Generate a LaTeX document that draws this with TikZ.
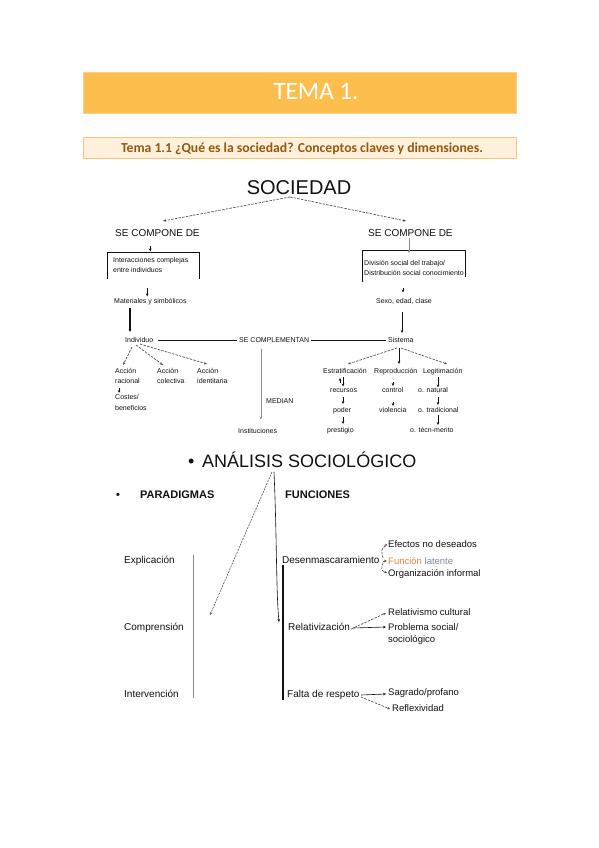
\documentclass[tikz,border=0pt]{standalone}
\usepackage{fontspec}
\setmainfont{Liberation Sans}
\newfontfamily\carlito{Carlito}
\usetikzlibrary{arrows.meta}
\definecolor{banner}{HTML}{FCBE4C}
\definecolor{bannerline}{HTML}{FCD08A}
\definecolor{subfill}{HTML}{FEF0DB}
\definecolor{subline}{HTML}{F7C27C}
\definecolor{subtext}{HTML}{94580F}
\definecolor{ink}{HTML}{111111}
\definecolor{lgray}{HTML}{8C8C8C}
\definecolor{dgray}{HTML}{555555}
\definecolor{fnorange}{HTML}{E08B3E}
\definecolor{latgray}{HTML}{7F8C9E}
\begin{document}
\begin{tikzpicture}[x=1pt,y=-1pt,
 tx/.style={inner sep=0pt,anchor=base west,text=ink,font=\fontsize{7}{8}\selectfont},
 tm/.style={inner sep=0pt,anchor=base west,text=ink,font=\fontsize{10}{12}\selectfont},
 ts/.style={inner sep=0pt,anchor=base west,text=ink,font=\fontsize{9.5}{11}\selectfont},
 tb/.style={inner sep=0pt,anchor=base west,text=ink,font=\bfseries\fontsize{11}{13}\selectfont},
 ar/.style={-{Stealth[length=3pt,width=2.6pt]},line width=0.6pt,draw=ink},
 dar/.style={ar,line width=0.7pt,draw=dgray,dash pattern=on 2.5pt off 1.2pt},
 boxside/.style={line width=0.7pt,draw=ink},
 ]
\useasboundingbox (0,0) rectangle (599,848);
\fill[white] (0,0) rectangle (599,848);

% header
\node[draw=bannerline,line width=0.8pt,fill=banner,inner sep=0pt,minimum width=433pt,minimum height=41pt,anchor=north west] (banner) at (83,72) {};
\node[inner sep=0pt,text=white,font=\carlito\fontsize{25}{30}\selectfont] (tema) at (316,92) {TEMA 1.};
\node[draw=subline,line width=0.8pt,fill=subfill,inner sep=0pt,minimum width=433pt,minimum height=21pt,anchor=north west] (subbox) at (83,137) {};
\node[inner sep=0pt,anchor=base,text=subtext,font=\carlito\bfseries\fontsize{13.7}{16}\selectfont] (subt) at (302,152) {Tema 1.1 ¿Qué es la sociedad? Conceptos claves y dimensiones.};

% upper diagram
\node[inner sep=0pt,anchor=base,text=ink,font=\fontsize{20}{24}\selectfont] (soc) at (299,194) {SOCIEDAD};
\node[tm] (scl) at (115,236) {SE COMPONE DE};
\node[tm] (scr) at (368,236) {SE COMPONE DE};
\draw[dar] ([shift={(-9,3)}]soc.base) -- ([shift={(48,-15)}]scl.base west);
\draw[dar] ([shift={(-9,3)}]soc.base) -- ([shift={(38,-15)}]scr.base west);

\node[inner sep=0pt,minimum width=92pt,minimum height=27pt,anchor=north west] (boxl) at (107,252) {};
\draw[boxside] (boxl.south west) -- (boxl.north west) -- (boxl.north east) -- (boxl.south east);
\draw[ar] ([shift={(-3,-6)}]boxl.north) -- ([shift={(-3,-0.5)}]boxl.north);
\node[tx] (inter) at (113,262.5) {Interacciones complejas};
\node[tx] (entre) at (113,272.5) {entre individuos};

\node[inner sep=0pt,minimum width=103pt,minimum height=32pt,anchor=north west] (boxr) at (362,250) {};
\draw[boxside] (boxr.south west) -- (boxr.north west) -- (boxr.north east) -- ([shift={(0,-5)}]boxr.south east);
\draw[ar,draw=lgray] ([shift={(41,2)}]scr.base west) -- ([shift={(41,17)}]scr.base west);
\node[tx] (div) at (364,265.5) {División social del trabajo/};
\node[tx] (dist) at (364,275) {Distribución social conocimiento};

\node[tx] (mat) at (114,303) {Materiales y simbólicos};
\draw[ar] ([shift={(-6,9)}]boxl.south) -- ([shift={(-6,17)}]boxl.south);
\node[tx,anchor=base] (sexo) at (404,303.5) {Sexo, edad, clase};
\draw[ar] ([shift={(-1,-16)}]sexo.base) -- ([shift={(-1,-11)}]sexo.base);

\node[tx] (ind) at (125,342.5) {Individuo};
\node[tx] (secomp) at (239,342.5) {SE COMPLEMENTAN};
\node[tx] (sis) at (388,342.5) {Sistema};
\draw[ar,line width=1.1pt] ([shift={(16,5)}]mat.base west) -- ([shift={(5,-10.5)}]ind.base west);
\draw[ar,line width=0.8pt] ([shift={(-2,8.5)}]sexo.base) -- ([shift={(14,-9.5)}]sis.base west);
\draw[line width=0.9pt,ink] ([shift={(33,-2.5)}]ind.base west) -- ([shift={(-2,-2.5)}]secomp.base west);
\draw[line width=0.9pt,ink] ([shift={(2,-2.5)}]secomp.base east) -- ([shift={(-2,-2.5)}]sis.base west);

\node[tx] (inst) at (238,433.5) {Instituciones};
\node[tx] (median) at (266,403.5) {MEDIAN};
\draw[ar,draw=lgray] ([shift={(22,6)}]secomp.base west) -- ([shift={(23,-14)}]inst.base west);

\node[tx] (ar1) at (115,373.5) {Acción};
\node[tx] (ar2) at (115,383) {racional};
\node[tx] (ac1) at (157,373.5) {Acción};
\node[tx] (ac2) at (157,383) {colectiva};
\node[tx] (ai1) at (197,373.5) {Acción};
\node[tx] (ai2) at (197,383) {identitaria};
\draw[dar] ([shift={(7,4.5)}]ind.base west) -- ([shift={(8,-8.5)}]ar1.base west);
\draw[dar] ([shift={(11,2.5)}]ind.base west) -- ([shift={(6,-8.5)}]ac1.base west);
\draw[dar] ([shift={(15,1.5)}]ind.base west) -- ([shift={(10,-9.5)}]ai1.base west);
\node[tx] (cos1) at (115,399.5) {Costes/};
\node[tx] (cos2) at (115,410.5) {beneficios};
\draw[ar] ([shift={(4,-11.5)}]cos1.base west) -- ([shift={(4,-6.5)}]cos1.base west);

\node[tx] (est) at (323,373.5) {Estratificación};
\node[tx] (rep) at (374,373.5) {Reproducción};
\node[tx] (leg) at (423,373.5) {Legitimación};
\draw[dar] ([shift={(9,5.5)}]sis.base west) -- ([shift={(25,-9.5)}]est.base west);
\draw[ar,line width=0.9pt] ([shift={(11,5.5)}]sis.base west) -- ([shift={(25,-9.5)}]rep.base west);
\draw[dar] ([shift={(13,5.5)}]sis.base west) -- ([shift={(24,-9.5)}]leg.base west);

\node[tx] (recur) at (330,392.5) {recursos};
\node[tx] (poder) at (333,412.5) {poder};
\node[tx] (prest) at (327,432.5) {prestigio};
\draw[ar] ([shift={(20,3.5)}]est.base west) -- ([shift={(20,13)}]est.base west);
\draw[ar] ([shift={(17,9.5)}]est.base west) -- ([shift={(17,4.5)}]est.base west);
\draw[ar] ([shift={(13,4.5)}]recur.base west) -- ([shift={(13,11.5)}]recur.base west);
\draw[ar] ([shift={(10,4.5)}]poder.base west) -- ([shift={(10,11.5)}]poder.base west);

\node[tx] (contr) at (382,392.5) {control};
\node[tx] (viol) at (379,412.5) {violencia};
\draw[ar] ([shift={(19,8.5)}]rep.base west) -- ([shift={(19,12.5)}]rep.base west);
\draw[ar] ([shift={(11,9.5)}]contr.base west) -- ([shift={(11,13.5)}]contr.base west);

\node[tx] (onat) at (418,392.5) {o. natural};
\node[tx] (otrad) at (418,412.5) {o. tradicional};
\node[tx] (otec) at (410,432.5) {o. técn-merito};
\draw[ar] ([shift={(15,3.5)}]leg.base west) -- ([shift={(15,14)}]leg.base west);
\draw[ar] ([shift={(20,4.5)}]onat.base west) -- ([shift={(20,12.5)}]onat.base west);
\draw[ar,line width=0.9pt] ([shift={(20,2.5)}]otrad.base west) -- ([shift={(20,12.5)}]otrad.base west);

% lower diagram
\node[inner sep=0pt,anchor=base west,text=ink,font=\fontsize{18}{22}\selectfont] (anal) at (188,467) {•\hspace{7.7pt}ANÁLISIS SOCIOLÓGICO};
\node[tb] (para) at (116,498) {•\hspace{20pt}PARADIGMAS};
\node[tb] (func) at (285,498) {FUNCIONES};
\node[tm] (expl) at (124,563) {Explicación};
\node[tm] (comp) at (124,630) {Comprensión};
\node[tm] (interv) at (124,697) {Intervención};
\node[tm] (des) at (282,563) {Desenmascaramiento};
\node[tm] (rel) at (288,630) {Relativización};
\node[tm] (falta) at (287,697) {Falta de respeto};
\node[ts] (ef) at (388,547) {Efectos no deseados};
\node[ts] (fl) at (388,564) {\textcolor{fnorange}{Función} \textcolor{latgray}{latente}};
\node[ts] (oi) at (388,576) {Organización informal};
\node[ts] (relc) at (388,615) {Relativismo cultural};
\node[ts] (prob) at (388,630) {Problema social/};
\node[ts] (socio) at (388,642) {sociológico};
\node[ts] (sagr) at (388,695) {Sagrado/profano};
\node[ts] (refl) at (392,711) {Reflexividad};

\draw[ar,draw=dgray,dash pattern=on 2pt off 1pt] ([shift={(84,5)}]anal.base west) -- ([shift={(86,-15)}]comp.base west);
\draw[ar] ([shift={(86,5)}]anal.base west) .. controls ([shift={(89,73)}]anal.base west) and ([shift={(88,123)}]anal.base west) .. ([shift={(-9,-8)}]rel.base west);
\draw[line width=1.1pt,ink] ([shift={(1,2)}]des.base west) -- ([shift={(-4,3)}]falta.base west);
\draw[lgray,line width=0.9pt] ([shift={(69,-8)}]expl.base west) -- ([shift={(69,1)}]interv.base west);

\draw[dar] ([shift={(101,-5)}]des.base west) .. controls ([shift={(99,-13)}]des.base west) .. ([shift={(-1,-3)}]ef.base west);
\draw[dar] ([shift={(101,-2)}]des.base west) -- ([shift={(-1,-3)}]fl.base west);
\draw[dar] ([shift={(101,0)}]des.base west) .. controls ([shift={(99,7)}]des.base west) .. ([shift={(-1,-3)}]oi.base west);

\draw[dar] ([shift={(63,-1)}]rel.base west) -- ([shift={(-2,-2)}]relc.base west);
\draw[ar] ([shift={(65,-2)}]rel.base west) -- ([shift={(-2,-3)}]prob.base west);
\draw[ar] ([shift={(74,-2)}]falta.base west) -- ([shift={(-2,-1)}]sagr.base west);
\draw[dar] ([shift={(74,0)}]falta.base west) -- ([shift={(-2,-2)}]refl.base west);
\end{tikzpicture}
\end{document}
